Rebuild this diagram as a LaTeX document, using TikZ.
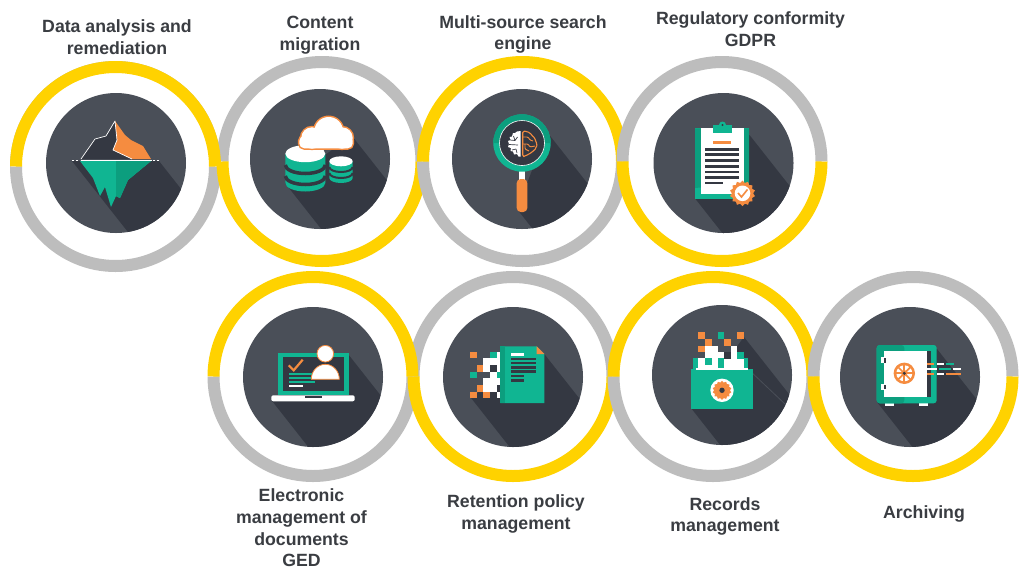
\documentclass[tikz,border=0pt]{standalone}
\usepackage{fontspec}
\setmainfont{Liberation Sans}
\usetikzlibrary{calc,shapes.geometric}

\definecolor{ringgray}{HTML}{BDBDBD}
\definecolor{ringyellow}{HTML}{FFD200}
\definecolor{diskcol}{HTML}{4A4F58}
\definecolor{shadecol}{HTML}{343842}
\definecolor{tealcol}{HTML}{10B592}
\definecolor{tealdark}{HTML}{0C9E7E}
\definecolor{orangecol}{HTML}{F58C40}
\definecolor{textcol}{HTML}{3A3D42}

\begin{document}
\begin{tikzpicture}
  [x=1pt,y=-1pt,
   grayring/.style={draw=ringgray,line width=12pt},
   yellowring/.style={draw=ringyellow,line width=12pt},
   txt/.style={text=textcol,font=\fontsize{17.7}{21.7}\selectfont\bfseries,align=center,inner sep=0pt},
   sealstar/.style={shape=star,star points=14,star point ratio=1.2,fill=orangecol,inner sep=0pt,minimum size=25.5pt}]

  \newcommand{\radius}{99.5}
  \newcommand{\diskr}{70}
  \newcommand{\darkline}[4]{\fill[#4] (#1,#2) rectangle (#3,#2+2.6);}
  \newcommand{\pix}[3]{\fill[#3] (#1,#2) rectangle ++(6.6,6.6);}
  \newcommand{\disk}[2]{%
    \fill[diskcol] (0,0) circle (\diskr);
    \begin{scope}
      \clip (0,0) circle (\diskr);
      \fill[shadecol] (#1) -- (#2) -- ++(130,165) -- ($(#1)+(130,165)$) -- cycle;
    \end{scope}}

  \useasboundingbox (0,0) rectangle (1024,579);
  \fill[white] (0,0) rectangle (1024,579);

  \coordinate (r1) at (115.5,166.5);
  \coordinate (r2) at (322,161.5);
  \coordinate (r3) at (522.5,161.5);
  \coordinate (r4) at (722,161.5);
  \coordinate (r5) at (313,376.5);
  \coordinate (r6) at (513,376.5);
  \coordinate (r7) at (713,376.5);
  \coordinate (r8) at (913,376.5);

  % top row of rings
  \draw[grayring] ($(r2)+(180:\radius)$) arc (180:360:\radius);
  \draw[grayring] ($(r1)+(0:\radius)$) arc (0:180:\radius);
  \draw[draw=ringgray,line width=1pt] ($(r1)+(180:105)$) arc (180:360:105);
  \draw[yellowring] ($(r1)+(180:\radius)$) arc (180:360:\radius);
  \draw[yellowring] ($(r2)+(0:\radius)$) arc (0:180:\radius);
  \draw[grayring] ($(r3)+(0:\radius)$) arc (0:180:\radius);
  \draw[yellowring] ($(r3)+(180:\radius)$) arc (180:360:\radius);
  \draw[grayring] ($(r4)+(180:\radius)$) arc (180:360:\radius);
  \draw[yellowring] ($(r4)+(0:\radius)$) arc (0:180:\radius);

  % bottom row of rings
  \draw[grayring] ($(r6)+(180:\radius)$) arc (180:360:\radius);
  \draw[grayring] ($(r5)+(0:\radius)$) arc (0:180:\radius);
  \draw[yellowring] ($(r5)+(180:\radius)$) arc (180:360:\radius);
  \draw[yellowring] ($(r6)+(0:\radius)$) arc (0:180:\radius);
  \draw[grayring] ($(r7)+(0:\radius)$) arc (0:180:\radius);
  \draw[yellowring] ($(r7)+(180:\radius)$) arc (180:360:\radius);
  \draw[grayring] ($(r8)+(180:\radius)$) arc (180:360:\radius);
  \draw[yellowring] ($(r8)+(0:\radius)$) arc (0:180:\radius);

  % iceberg
  \begin{scope}[shift={(116,163)}]
    \disk{-44,-2}{43,-2}
    \fill[tealcol] (-36,-2) -- (35,-2) -- (12,17) -- (4,35) -- (0,33) -- (-5,44) -- (-11,24) -- (-16,33) -- (-23,15) -- cycle;
    \fill[tealdark] (0,-2) -- (35,-2) -- (12,17) -- (4,35) -- (0,33) -- cycle;
    \fill[shadecol] (-35,-4) -- (-21,-24) -- (-10,-27) -- (-1,-42) -- (1,-23) -- (-3,-13) -- (16,-4) -- cycle;
    \fill[orangecol] (-1,-42) -- (9,-28) -- (15,-23) -- (27,-17) -- (35,-4) -- (16,-4) -- (-3,-13) -- (1,-23) -- cycle;
    \draw[white,line width=.7pt,line join=round] (16,-4) -- (-3,-13) -- (1,-23) -- (-1,-42) -- (-10,-27) -- (-21,-24) -- (-35,-4);
    \draw[white,line width=1pt] (-35,-3) -- (36,-3);
    \draw[white,line width=1pt,dash pattern=on 2pt off 2pt] (-44,-3) -- (-36,-3);
    \draw[white,line width=1pt,dash pattern=on 2pt off 2pt] (37,-3) -- (44,-3);
  \end{scope}

  % cloud and databases
  \begin{scope}[shift={(320,159)}]
    \disk{-35,24}{32,-23}
    \fill[tealcol] (-34.7,-5.3) -- (-34.7,24) arc (180:0:20 and 8.5) -- (5.3,-5.3) -- cycle;
    \fill[white] (-14.7,-5.3) ellipse (20 and 8.5);
    \draw[shadecol,line width=3.5pt] (-34.7,6) arc (180:0:20 and 8.5);
    \draw[shadecol,line width=3.5pt] (-34.7,17) arc (180:0:20 and 8.5);
    \fill[tealcol] (9.3,2.3) -- (9.3,19) arc (180:0:11.7 and 5) -- (32.7,2.3) -- cycle;
    \fill[white] (21,2.3) ellipse (11.7 and 5);
    \draw[shadecol,line width=2pt] (9.3,8) arc (180:0:11.7 and 5);
    \draw[shadecol,line width=2pt] (9.3,14) arc (180:0:11.7 and 5);
    \draw[orangecol,line width=3pt] (8.7,-27.7) circle (14.3);
    \draw[orangecol,line width=3pt] (-8,-21) circle (10.7);
    \draw[orangecol,line width=3pt] (22,-21) circle (10.7);
    \draw[orangecol,line width=3pt,rounded corners=5pt] (-20.7,-23) rectangle (32.7,-10.7);
    \fill[white] (8.7,-27.7) circle (14.3);
    \fill[white] (-8,-21) circle (10.7);
    \fill[white] (22,-21) circle (10.7);
    \fill[white,rounded corners=5pt] (-20.7,-23) rectangle (32.7,-10.7);
  \end{scope}

  % magnifier and brain
  \begin{scope}[shift={(522,159)}]
    \disk{-5,50}{25,-27}
    \fill[white] (-3,10) rectangle (3,21);
    \fill[orangecol,rounded corners=4pt] (-5.3,20) rectangle (5.3,53);
    \fill[tealcol] (0,-16) circle (28.7);
    \fill[tealdark] (-28.7,-16) arc (180:360:28.7) -- cycle;
    \fill[shadecol] (0,-16) circle (22.5);
    \draw[white,line width=.6pt] (0,-16) circle (22.5);
    \fill[white] (-1.3,-28) -- (-5,-27.5) -- (-7,-26) -- (-9,-26) -- (-10,-22.5) -- (-12.5,-22) -- (-11.5,-19) -- (-14,-18) -- (-13,-15) -- (-14,-12) -- (-11,-11) -- (-11.5,-8) -- (-9,-7.5) -- (-8,-4.5) -- (-5,-5) -- (-3.5,-2.5) -- (-1.3,-2.5) -- cycle;
    \draw[shadecol,line width=.7pt] (-12,-19) -- (-7,-18.5) -- (-4.5,-22) (-13,-14.5) -- (-4,-14) (-10,-9) -- (-6,-10) (-8.5,-23) -- (-7,-18.5) (-6,-10) -- (-5,-6);
    \draw[orangecol,line width=1.1pt,line join=round,rounded corners=1.5pt] (.7,-28) -- (5,-27.5) -- (8,-26) -- (10,-24) -- (11,-22) -- (13.5,-20.5) -- (13.5,-17) -- (15.5,-15) -- (14,-11.5) -- (12.5,-8.5) -- (10,-7.5) -- (8,-5) -- (5,-4.5) -- (3,-2.5) -- (.7,-2.5) -- cycle;
    \draw[orangecol,line width=.9pt,rounded corners=1pt] (1,-22) -- (6,-22) -- (8,-19) -- (11,-18) (1,-15) -- (6,-15) -- (8,-12) -- (13,-13) (3,-15) -- (3,-10) -- (7,-8);
  \end{scope}

  % clipboard
  \begin{scope}[shift={(723.5,163)}]
    \disk{-28,36}{26,-28}
    \fill[tealcol] (-28.3,-34.7) rectangle (25.7,36.3);
    \fill[tealdark] (-28.3,-34.7) -- (25.7,-34.7) -- (25.7,20) -- (-28.3,25) -- cycle;
    \fill[white] (-22.7,-34.7) rectangle (20,31);
    \fill[tealcol] (-10.7,-30) rectangle (8.3,-38);
    \fill[tealcol] (-1,-38) circle (3.5);
    \fill[shadecol] (-1,-38) circle (1.2);
    \darkline{-10.7}{-22}{7.7}{orangecol}
    \darkline{-18.3}{-15}{15.7}{shadecol}
    \darkline{-18.3}{-9.7}{15.7}{shadecol}
    \darkline{-18.3}{-4}{15.7}{shadecol}
    \darkline{-18.3}{2}{15.7}{shadecol}
    \darkline{-18.3}{7.5}{15.7}{shadecol}
    \darkline{-18.3}{13}{15.7}{shadecol}
    \darkline{-18.3}{18.5}{-1}{shadecol}
    \node[sealstar] (seal4) at (19,30.3) {};
    \fill[white] (19,30.3) circle (7.8);
    \draw[orangecol,line width=1.6pt] (14.5,30) -- (18,34) -- (24,26.5);
  \end{scope}

  % laptop and person
  \begin{scope}[shift={(313,377)}]
    \disk{-41.7,23}{35,-23}
    \fill[tealcol] (-35.3,-24.3) rectangle (35.7,18.3);
    \fill[shadecol] (-30.3,-20) rectangle (31.3,14.3);
    \fill[white,rounded corners=2pt] (-41.7,18.3) rectangle (41.7,24.3);
    \fill[shadecol] (-8.3,19) rectangle (9,20.7);
    \draw[orangecol,line width=2.2pt] (-24.3,-11.7) -- (-19.3,-6.7) -- (-10.3,-17.3);
    \fill[tealcol] (-24.3,-4.3) rectangle (-1,-2.3);
    \fill[tealcol] (-24.3,0) rectangle (-1,2);
    \fill[tealcol] (-24.3,4.3) rectangle (2.3,6.3);
    \fill[white] (-24.3,8.3) rectangle (-10.3,10.3);
    \draw[orangecol,fill=white,line width=.8pt] (12.3,-23.3) circle (8.3);
    \draw[orangecol,fill=white,line width=.8pt] (-1.7,2.3) arc (180:360:14 and 15) -- cycle;
  \end{scope}

  % document and pixels
  \begin{scope}[shift={(513,377)}]
    \disk{-42.7,20}{31.3,-23}
    \pix{-43}{-25.3}{orangecol}
    \pix{-36.3}{-12}{orangecol}
    \pix{-43}{-5.3}{tealcol}
    \pix{-36.3}{8}{orangecol}
    \pix{-43}{14.7}{orangecol}
    \pix{-29.7}{14.7}{orangecol}
    \pix{-23}{-25.3}{tealcol}
    \fill[white] (-16.4,-25.3) rectangle (-12,-18.7);
    \fill[white] (-29.7,-18.7) rectangle (-12,-12);
    \fill[white] (-29.7,-12) rectangle (-23,-5.3);
    \pix{-23}{-12}{shadecol}
    \fill[white] (-16.4,-12) rectangle (-12,-5.3);
    \pix{-23}{-5.3}{white}
    \pix{-16.4}{-5.3}{tealcol}
    \fill[white] (-29.7,1.3) rectangle (-12,14.7);
    \pix{-16.4}{8}{shadecol}
    \fill[white] (-16.4,14.7) rectangle (-12,21);
    \fill[tealcol] (-12.7,-30.7) -- (23.7,-30.7) -- (31.3,-23) -- (31.3,26) -- (-12.7,26) -- cycle;
    \fill[tealdark] (-12.7,-30.7) rectangle (-8,26);
    \fill[orangecol] (23.7,-30.7) -- (31.3,-23) -- (23.7,-23) -- cycle;
    \darkline{-2}{-24}{11}{white}
    \darkline{-2}{-19.5}{23}{shadecol}
    \darkline{-2}{-15.3}{23}{shadecol}
    \darkline{-2}{-11}{23}{shadecol}
    \darkline{-2}{-6.6}{23}{shadecol}
    \darkline{-2}{-2.3}{11}{shadecol}
    \darkline{-2}{2.4}{11}{shadecol}
  \end{scope}

  % folder and pixels
  \begin{scope}[shift={(722,375)}]
    \disk{-31,33}{22,-38}
    \draw[diskcol,line width=.8pt] (26,-6) -- (63,29);
    \fill[tealcol] (-29,-16.7) rectangle (26,-4);
    \pix{-23.7}{-42.7}{orangecol}
    \pix{-4.3}{-42.7}{tealcol}
    \pix{15.3}{-42.7}{orangecol}
    \pix{-17}{-36}{orangecol}
    \pix{2.3}{-36}{orangecol}
    \pix{-23.7}{-29.3}{orangecol}
    \fill[white] (-17,-29.3) rectangle (-4.3,-16.7);
    \fill[white] (-4.3,-23) rectangle (15.3,-16.7);
    \fill[white] (9,-29.3) rectangle (15.3,-23);
    \fill[white] (-23.7,-16.7) rectangle (22,-6.7);
    \pix{2.3}{-23}{shadecol}
    \pix{15.3}{-23}{tealcol}
    \pix{-17}{-16.7}{tealcol}
    \fill[tealcol] (-4.3,-16.7) rectangle (2.3,-6.7);
    \fill[tealcol] (-31.3,-6.3) rectangle (30.7,33.7);
    \fill[white] (-26.5,-7) rectangle (26,-5);
    \fill[white] (0,15.3) circle (11.7);
    \node[sealstar,minimum size=19pt] (seal7) at (0,15.3) {};
    \fill[shadecol] (0,15.3) circle (2.7);
  \end{scope}

  % safe
  \begin{scope}[shift={(910,377)}]
    \disk{-33,25}{27,-28}
    \fill[white] (-25,25) rectangle (-16,28.7);
    \fill[white] (9,25) rectangle (17.7,28.7);
    \fill[tealcol,rounded corners=3pt] (-33.3,-32) rectangle (26.7,26.3);
    \fill[tealdark,rounded corners=3pt] (-33.3,-32) rectangle (-5.7,26.3);
    \fill[white] (-26,-26.3) rectangle (16.7,19.7);
    \fill[shadecol] (16.7,-26.3) rectangle (21,19.7);
    \fill[white] (-29,-19.7) rectangle (-23.3,-13.7);
    \fill[white] (-29,7) rectangle (-23.3,13);
    \fill[shadecol] (-26,-19) rectangle (-24.3,-14.4);
    \fill[shadecol] (-26,7.7) rectangle (-24.3,12.3);
    \fill[orangecol] (-5.7,-3.7) circle (10.7);
    \fill[white] (-5.7,-3.7) circle (8);
    \draw[orangecol,line width=1.7pt] (-14,-3.7) -- (2.6,-3.7);
    \draw[orangecol,line width=1.7pt] (-5.7,-12) -- (-5.7,4.6);
    \draw[orangecol,line width=1.7pt] (-11.6,-9.6) -- (.2,2.2);
    \draw[orangecol,line width=1.7pt] (-11.6,2.2) -- (.2,-9.6);
    \fill[orangecol] (-5.7,-3.7) circle (3.2);
    \fill[shadecol] (-5.7,-3.7) circle (1.7);
    \fill[orangecol] (16.7,-14.2) rectangle (24.3,-11.8);
    \fill[white] (26.7,-14.2) rectangle (34.3,-11.8);
    \fill[tealcol] (36,-14.2) rectangle (44,-11.8);
    \fill[white] (16.7,-9.2) rectangle (26.7,-6.8);
    \fill[tealcol] (29,-9.2) rectangle (41,-6.8);
    \fill[white] (43.3,-9.2) rectangle (51,-6.8);
    \fill[orangecol] (16.7,-4.2) rectangle (24.3,-1.8);
    \fill[white] (26.7,-4.2) rectangle (34.3,-1.8);
    \fill[orangecol] (36,-4.2) rectangle (51,-1.8);
  \end{scope}

  \node [txt] (analysis) at (117,37.5) {Data analysis and\\remediation};
  \node [txt] (migration) at (320,35.5) {Content\\migration};
  \node [txt] (search) at (523,34.5) {Multi-source search\\engine};
  \node [txt] (gdpr) at (750.5,29.5) {Regulatory conformity\\GDPR};
  \node [txt] (ged) at (301.5,528) {Electronic\\management of\\documents\\GED};
  \node [txt] (retention) at (516,514) {Retention policy\\management};
  \node [txt] (records) at (725,516.5) {Records\\management};
  \node [txt] (archiving) at (924,514) {Archiving};

\end{tikzpicture}
\end{document}
